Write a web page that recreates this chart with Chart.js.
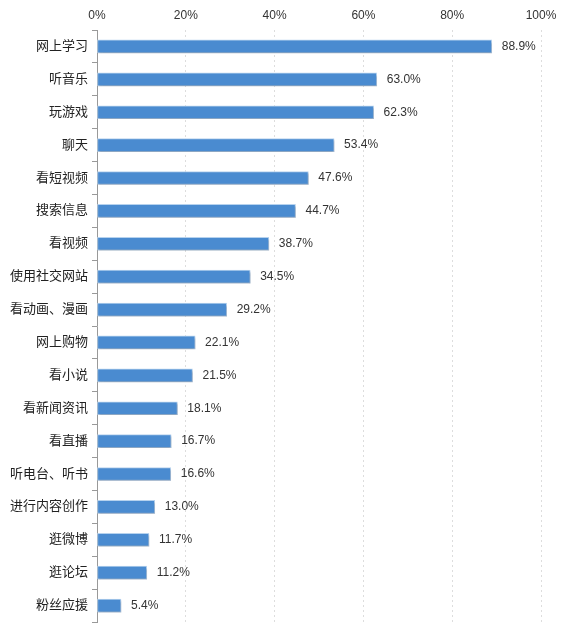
<!DOCTYPE html>
<html>
<head>
<meta charset="utf-8">
<script src="https://cdn.jsdelivr.net/npm/chart.js@4"></script>
<style>
  html, body { margin: 0; padding: 0; background: #fff; }
  #wrap { width: 564px; height: 640px; }
</style>
</head>
<body>
<div id="wrap"><canvas id="usechart"></canvas></div>
<script>
var categories = ["网上学习", "听音乐", "玩游戏", "聊天", "看短视频", "搜索信息", "看视频", "使用社交网站", "看动画、漫画",
    "网上购物", "看小说", "看新闻资讯", "看直播", "听电台、听书", "进行内容创作", "逛微博", "逛论坛", "粉丝应援"]
var shares = [88.9, 63.0, 62.3, 53.4, 47.6, 44.7, 38.7, 34.5, 29.2, 22.1, 21.5, 18.1, 16.7, 16.6, 13.0, 11.7, 11.2, 5.4]
var xTicks = [0, 20, 40, 60, 80, 100]

var fontFamily = "'Liberation Sans', 'Noto Sans CJK SC', sans-serif"

// value labels at the end of each bar
const valueLabels = {
    id: "valueLabels",
    afterDatasetsDraw(chart) {
        const ctx = chart.ctx
        const meta = chart.getDatasetMeta(0)
        ctx.save()
        ctx.font = "12px " + fontFamily
        ctx.fillStyle = "#333"
        ctx.textBaseline = "middle"
        meta.data.forEach((bar, i) => {
            ctx.fillText(shares[i].toFixed(1) + "%", bar.x + 10, bar.y)
        })
        ctx.restore()
    }
}

// soft shadow under the bars
const barShadow = {
    id: "barShadow",
    beforeDatasetsDraw(chart) {
        const ctx = chart.ctx
        ctx.save()
        ctx.shadowColor = "rgba(60, 80, 110, 0.35)"
        ctx.shadowBlur = 2
        ctx.shadowOffsetX = 1
        ctx.shadowOffsetY = 2
    },
    afterDatasetsDraw(chart) {
        chart.ctx.restore()
    }
}

var chartUse = new Chart(document.getElementById("usechart"), {
    type: "bar",
    data: {
        labels: categories,
        datasets: [{
            data: shares,
            backgroundColor: "#4a8bd0",
            borderColor: "#b6d2ee",
            borderWidth: 1,
            borderSkipped: false,
            barThickness: 13
        }]
    },
    options: {
        indexAxis: "y",
        responsive: true,
        maintainAspectRatio: false,
        animation: false,
        layout: { padding: { left: 0, right: 23, top: 0, bottom: 18 } },
        plugins: {
            legend: { display: false },
            tooltip: { enabled: false }
        },
        scales: {
            x: {
                position: "top",
                min: 0,
                max: 100,
                afterBuildTicks: (scale) => { scale.ticks = xTicks.map(v => ({ value: v })) },
                afterFit: (scale) => { scale.height = 30 },
                ticks: {
                    callback: (v) => v + "%",
                    color: "#333",
                    font: { size: 12, family: fontFamily },
                    padding: 7,
                    maxRotation: 0
                },
                grid: {
                    color: (c) => c.tick && c.tick.value === 0 ? "rgba(0,0,0,0)" : "#dddddd",
                    drawTicks: false
                },
                border: { display: false, dash: [2, 3] }
            },
            y: {
                afterFit: (scale) => { scale.width = 97 },
                ticks: {
                    color: "#222",
                    font: { size: 13, family: fontFamily },
                    padding: 4
                },
                grid: {
                    offset: true,
                    drawOnChartArea: false,
                    drawTicks: true,
                    tickLength: 5,
                    color: "#999"
                },
                border: { display: true, color: "#999", width: 1 }
            }
        }
    },
    plugins: [barShadow, valueLabels]
})
</script>
</body>
</html>
